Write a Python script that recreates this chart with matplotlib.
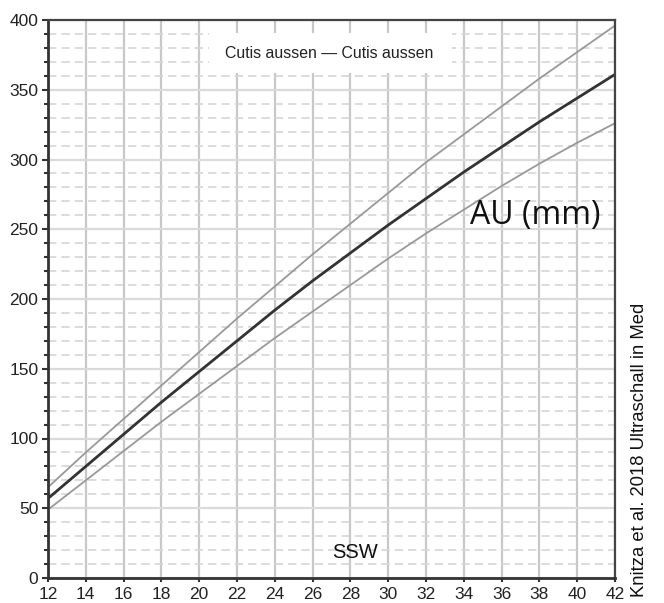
import matplotlib
matplotlib.use("Agg")
import matplotlib.pyplot as plt
from matplotlib.patches import Rectangle
from matplotlib.ticker import MultipleLocator

weeks = [12, 14, 16, 18, 20, 22, 24, 26, 28, 30, 32, 34, 36, 38, 40, 42]
au_median = [57, 80, 103, 126, 148, 170, 192, 213, 233, 253, 272, 291, 309, 327, 344, 361]
au_upper = [65, 90, 114, 138, 162, 186, 209, 232, 254, 276, 298, 318, 338, 358, 377, 396]
au_lower = [49, 70, 91, 112, 132, 152, 172, 191, 210, 229, 247, 264, 281, 297, 312, 326]

plt.rcParams["font.family"] = ["Liberation Sans", "DejaVu Sans"]

fig = plt.figure(figsize=(6.64, 6.03), dpi=100)
ax = fig.add_axes([48 / 664, 1 - 578 / 603, 567 / 664, 558 / 603])

ax.set_xlim(12, 42)
ax.set_ylim(0, 400)
ax.xaxis.set_major_locator(MultipleLocator(2))
ax.yaxis.set_major_locator(MultipleLocator(50))
ax.yaxis.set_minor_locator(MultipleLocator(10))

# grid
ax.grid(axis="x", which="major", color="#c8c8c8", linewidth=1.6)
ax.grid(axis="y", which="major", color="#dadada", linewidth=1.6)
ax.grid(axis="y", which="minor", color="#d6d6d6", linewidth=1.2, linestyle=(0, (5, 3)))
ax.set_axisbelow(True)

ax.plot(weeks, au_upper, color="#999999", linewidth=1.3)
ax.plot(weeks, au_lower, color="#999999", linewidth=1.3)
ax.plot(weeks, au_median, color="#333333", linewidth=2.0)

for side in ["left", "bottom"]:
    ax.spines[side].set_color("#333333")
    ax.spines[side].set_linewidth(2.0)
for side in ["top", "right"]:
    ax.spines[side].set_color("#444444")
    ax.spines[side].set_linewidth(1.6)

ax.tick_params(axis="both", which="major", direction="out", length=4, width=1.5,
               color="#333333", labelsize=12.5, labelcolor="#222222", pad=3)
ax.tick_params(axis="y", which="minor", direction="out", length=3, width=1.5, color="#333333")
ax.tick_params(axis="x", which="major", length=3, pad=3.5)

# label box
ax.add_patch(Rectangle((20.5, 362), 12.9, 29, facecolor="white", edgecolor="none", zorder=1.5))
ax.text(26.9, 376, "Cutis aussen \u2014 Cutis aussen", ha="center", va="center", fontsize=11.4,
        color="#222222", zorder=3)

ax.text(37.8, 260, "AU (mm)", ha="center", va="center", fontsize=23,
        family=["Open Sans", "DejaVu Sans"], color="#111111", zorder=3)
ax.text(28.25, 18, "SSW", ha="center", va="center", fontsize=14.5, color="#111111", zorder=3)

fig.text(640 / 664, 1 - 450 / 603, "Knitza et al. 2018 Ultraschall in Med", rotation=90,
         ha="center", va="center", fontsize=13.3, color="#111111")

fig.savefig("out.png", dpi=100)
